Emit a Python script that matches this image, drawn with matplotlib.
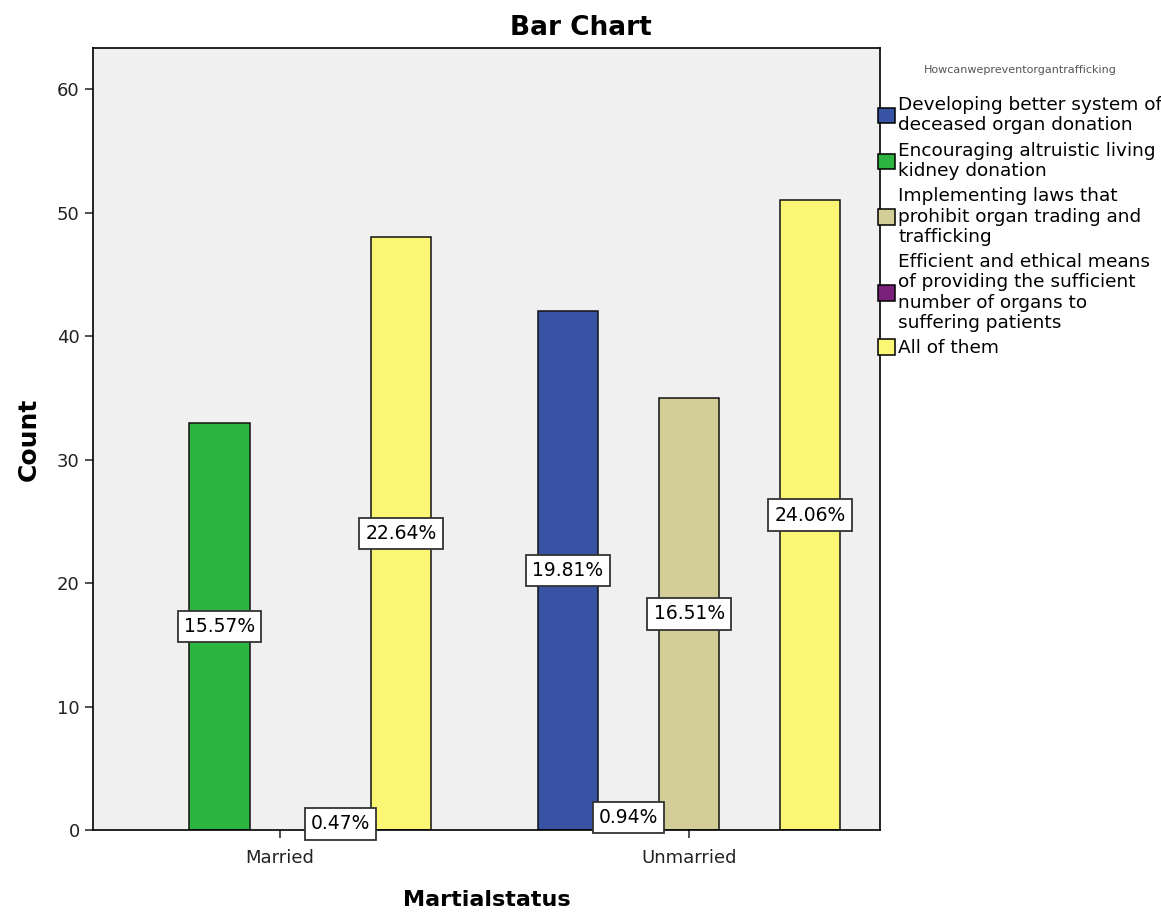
import numpy as np
import matplotlib
matplotlib.use('Agg')
import matplotlib.pyplot as plt
from matplotlib.patches import Patch

groups = ['Married', 'Unmarried']
categories = ['Developing better system of\ndeceased organ donation',
              'Encouraging altruistic living\nkidney donation',
              'Implementing laws that\nprohibit organ trading and\ntrafficking',
              'Efficient and ethical means\nof providing the sufficient\nnumber of organs to\nsuffering patients',
              'All of them']
colors = ['#3953a4', '#2db541', '#d3ce97', '#79207a', '#fbf774']

# counts per group, in category order (0 = no bar)
married = [0, 33, 0, 1, 48]
unmarried = [42, 0, 35, 2, 51]
married_pct = [None, '15.57%', None, '0.47%', '22.64%']
unmarried_pct = ['19.81%', None, '16.51%', '0.94%', '24.06%']
# slot of each category inside its cluster (as SPSS drew them)
married_slot = [-2, -1, 0, 1, 2]
unmarried_slot = [-2, 1, 0, -1, 2]

plt.rcParams['font.family'] = 'DejaVu Sans'
fig = plt.figure(figsize=(11.61, 9.13), dpi=100)
ax = fig.add_axes([0.0801, 0.0909, 0.678, 0.856])
ax.set_facecolor('#f0f0f0')

w = 0.148
for gi, (vals, pcts, slots) in enumerate([(married, married_pct, married_slot),
                                          (unmarried, unmarried_pct, unmarried_slot)]):
    for ci in range(len(categories)):
        if vals[ci] == 0:
            continue
        x = gi + slots[ci] * w
        ax.bar(x, vals[ci], width=w, color=colors[ci], edgecolor='#111111', linewidth=1.1, zorder=2)
        ax.text(x, vals[ci] / 2, pcts[ci], ha='center', va='center', fontsize=13.5, zorder=3,
                bbox=dict(boxstyle='square,pad=0.33', fc='white', ec='#333333', lw=1.3))

ax.set_xlim(-0.457, 1.467)
ax.set_ylim(0, 63.3)
ax.set_xticks([0, 1])
ax.set_xticklabels(groups)
ax.set_yticks(np.arange(0, 61, 10))
ax.tick_params(labelsize=13, length=6, width=1.1, colors='#222222')
ax.tick_params(axis='x', pad=8)
for s in ax.spines.values():
    s.set_linewidth(1.2)
fig.suptitle('Bar Chart', x=0.5, y=0.984, fontsize=19, fontweight='bold')
ax.set_xlabel('Martialstatus', fontsize=16, fontweight='bold', labelpad=16)
ax.set_ylabel('Count', fontsize=18, fontweight='bold', labelpad=12)

handles = [Patch(facecolor=c, edgecolor='black', linewidth=1.1) for c in colors]
leg = fig.legend(handles, categories, loc='upper left', bbox_to_anchor=(0.753, 0.933),
                 frameon=False, fontsize=13.3, title='Howcanwepreventorgantrafficking',
                 title_fontsize=8, handlelength=0.9, handleheight=0.9, handletextpad=0.2,
                 labelspacing=0.42, borderaxespad=0, borderpad=0.2)
leg.get_title().set_color('#555555')
leg._legend_box.sep = 15
for t in leg.get_texts():
    t.set_linespacing(1.15)

fig.savefig('out.png', dpi=100)
